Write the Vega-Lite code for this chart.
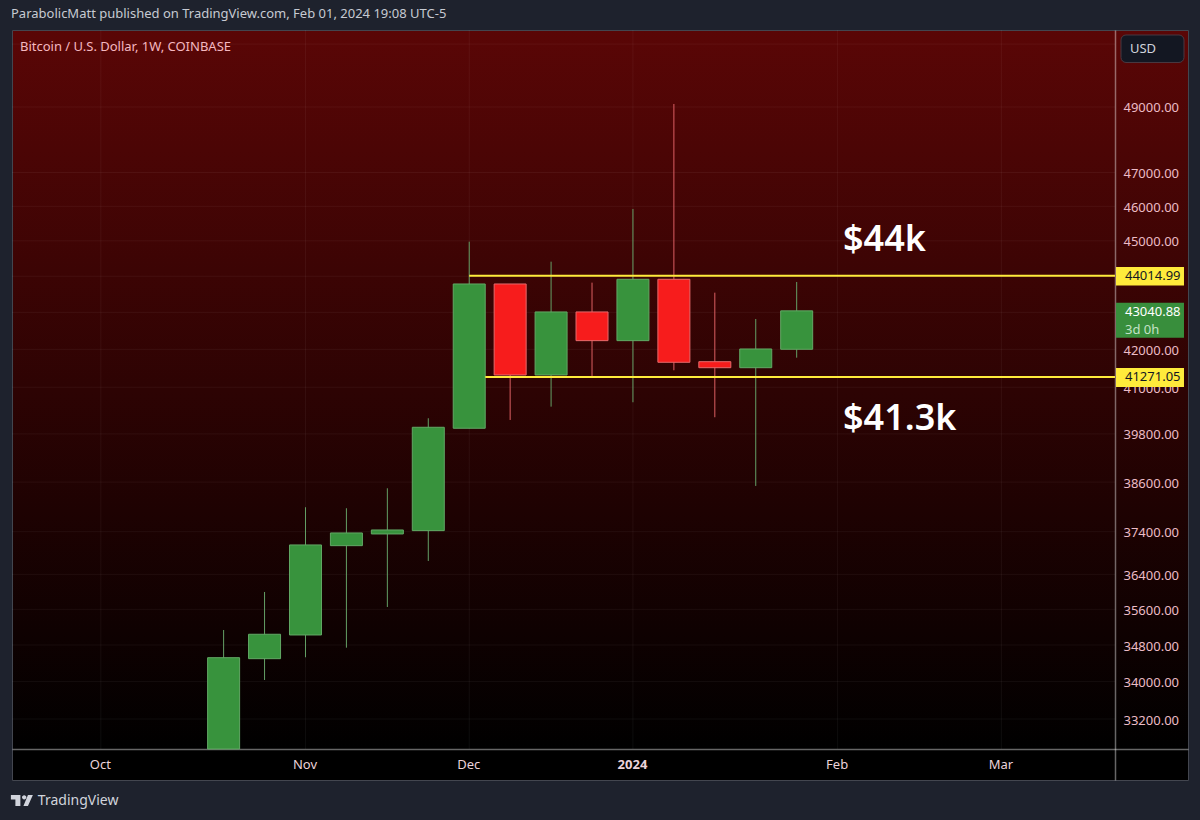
{
  "$schema": "https://vega.github.io/schema/vega-lite/v6.json",
  "width": 1176,
  "height": 750,
  "autosize": "none",
  "padding": {"left": 12, "top": 30, "right": 12, "bottom": 40},
  "background": "#1e222d",
  "title": {
    "text": "ParabolicMatt published on TradingView.com, Feb 01, 2024 19:08 UTC-5",
    "anchor": "start",
    "frame": "group",
    "offset": 9,
    "dx": -1,
    "font": "Noto Sans",
    "fontSize": 13,
    "fontWeight": "normal",
    "color": "#c6cad2"
  },
  "datasets": {
    "candles": [
      {"date": "2023-10-23", "open": 32573, "close": 34521, "high": 35134, "low": 32573, "dir": "up"},
      {"date": "2023-10-30", "open": 34499, "close": 35039, "high": 35994, "low": 34034, "dir": "up"},
      {"date": "2023-11-06", "open": 35023, "close": 37087, "high": 37987, "low": 34530, "dir": "up"},
      {"date": "2023-11-13", "open": 37070, "close": 37371, "high": 37963, "low": 34741, "dir": "up"},
      {"date": "2023-11-20", "open": 37347, "close": 37442, "high": 38448, "low": 35652, "dir": "up"},
      {"date": "2023-11-27", "open": 37426, "close": 39969, "high": 40199, "low": 36711, "dir": "up"},
      {"date": "2023-12-04", "open": 39944, "close": 43783, "high": 44977, "low": 39944, "dir": "up"},
      {"date": "2023-12-11", "open": 43783, "close": 41321, "high": 43783, "low": 40155, "dir": "down"},
      {"date": "2023-12-18", "open": 41321, "close": 43011, "high": 44409, "low": 40497, "dir": "up"},
      {"date": "2023-12-25", "open": 43011, "close": 42233, "high": 43820, "low": 41295, "dir": "down"},
      {"date": "2024-01-01", "open": 42233, "close": 43914, "high": 45923, "low": 40610, "dir": "up"},
      {"date": "2024-01-08", "open": 43914, "close": 41656, "high": 49094, "low": 41445, "dir": "down"},
      {"date": "2024-01-15", "open": 41672, "close": 41513, "high": 43542, "low": 40225, "dir": "down"},
      {"date": "2024-01-22", "open": 41513, "close": 42010, "high": 42819, "low": 38505, "dir": "up"},
      {"date": "2024-01-29", "open": 42002, "close": 43040.88, "high": 43839, "low": 41778, "dir": "up"}
    ],
    "priceGrid": [
      {"price": 51000, "from": "2023-09-16T19:26:00Z", "to": "2024-03-23T10:24:00Z"},
      {"price": 49000, "from": "2023-09-16T19:26:00Z", "to": "2024-03-23T10:24:00Z"},
      {"price": 47000, "from": "2023-09-16T19:26:00Z", "to": "2024-03-23T10:24:00Z"},
      {"price": 46000, "from": "2023-09-16T19:26:00Z", "to": "2024-03-23T10:24:00Z"},
      {"price": 45000, "from": "2023-09-16T19:26:00Z", "to": "2024-03-23T10:24:00Z"},
      {"price": 44000, "from": "2023-09-16T19:26:00Z", "to": "2024-03-23T10:24:00Z"},
      {"price": 43000, "from": "2023-09-16T19:26:00Z", "to": "2024-03-23T10:24:00Z"},
      {"price": 42000, "from": "2023-09-16T19:26:00Z", "to": "2024-03-23T10:24:00Z"},
      {"price": 41000, "from": "2023-09-16T19:26:00Z", "to": "2024-03-23T10:24:00Z"},
      {"price": 39800, "from": "2023-09-16T19:26:00Z", "to": "2024-03-23T10:24:00Z"},
      {"price": 38600, "from": "2023-09-16T19:26:00Z", "to": "2024-03-23T10:24:00Z"},
      {"price": 37400, "from": "2023-09-16T19:26:00Z", "to": "2024-03-23T10:24:00Z"},
      {"price": 36400, "from": "2023-09-16T19:26:00Z", "to": "2024-03-23T10:24:00Z"},
      {"price": 35600, "from": "2023-09-16T19:26:00Z", "to": "2024-03-23T10:24:00Z"},
      {"price": 34800, "from": "2023-09-16T19:26:00Z", "to": "2024-03-23T10:24:00Z"},
      {"price": 34000, "from": "2023-09-16T19:26:00Z", "to": "2024-03-23T10:24:00Z"},
      {"price": 33200, "from": "2023-09-16T19:26:00Z", "to": "2024-03-23T10:24:00Z"}
    ],
    "timeGrid": [
      {"date": "2023-10-02", "price": 51459, "bottom": 32573},
      {"date": "2023-11-06", "price": 51459, "bottom": 32573},
      {"date": "2023-12-04", "price": 51459, "bottom": 32573},
      {"date": "2024-01-01", "price": 51459, "bottom": 32573},
      {"date": "2024-02-05", "price": 51459, "bottom": 32573},
      {"date": "2024-03-04", "price": 51459, "bottom": 32573}
    ]
  },
  "encoding": {
    "x": {
      "field": "date",
      "type": "temporal",
      "title": null,
      "scale": {"type": "utc", "domain": [1694892384000, 1712268288000], "nice": false, "padding": 0},
      "axis": {
        "orient": "bottom",
        "offset": -31,
        "values": [1696204800000, 1699228800000, 1701648000000, 1704067200000, 1707091200000, 1709510400000],
        "labelExpr": "utcmonth(datum.value) == 0 ? '2024' : utcFormat(datum.value, '%b')",
        "labelFont": "Noto Sans",
        "labelFontSize": 13,
        "labelFontWeight": {"condition": {"test": "utcmonth(datum.value) == 0", "value": "bold"}, "value": "normal"},
        "labelColor": "#ecd3da",
        "labelPadding": 9,
        "labelOffset": -1,
        "labelFlush": false,
        "labelOverlap": false,
        "ticks": false,
        "grid": false,
        "domainColor": "#ffffff",
        "domainOpacity": 0.4,
        "domainWidth": 1.5
      }
    },
    "y": {
      "field": "price",
      "type": "quantitative",
      "title": null,
      "scale": {"type": "log", "domain": [31937, 51459], "nice": false, "padding": 0},
      "axis": {
        "orient": "right",
        "offset": -73,
        "values": [49000, 47000, 46000, 45000, 42000, 41000, 39800, 38600, 37400, 36400, 35600, 34800, 34000, 33200],
        "format": ".2f",
        "labelFont": "Noto Sans",
        "labelFontSize": 13,
        "labelColor": "#ecbcc6",
        "labelPadding": 8,
        "labelOffset": 1,
        "labelOverlap": false,
        "labelBound": false,
        "labelFlush": false,
        "ticks": false,
        "grid": false,
        "domainColor": "#ffffff",
        "domainOpacity": 0.4,
        "domainWidth": 1.5
      }
    }
  },
  "layer": [
    {
      "data": {"name": "priceGrid"},
      "mark": {"type": "rule", "color": "#ffffff", "opacity": 0.05, "strokeWidth": 1},
      "encoding": {
        "x": {"field": "from", "type": "temporal", "title": null},
        "x2": {"field": "to"}
      }
    },
    {
      "data": {"name": "timeGrid"},
      "mark": {"type": "rule", "color": "#ffffff", "opacity": 0.05, "strokeWidth": 1},
      "encoding": {
        "y2": {"field": "bottom"}
      }
    },
    {
      "data": {"name": "candles"},
      "mark": {"type": "rule", "strokeWidth": 1},
      "encoding": {
        "y": {"field": "high", "type": "quantitative", "title": null},
        "y2": {"field": "low"},
        "color": {"field": "dir", "type": "nominal", "legend": null, "scale": {"domain": ["up", "down"], "range": ["#64a066", "#dc5f62"]}}
      }
    },
    {
      "data": {"name": "candles"},
      "mark": {"type": "bar", "size": 32, "strokeWidth": 1},
      "encoding": {
        "y": {"field": "open", "type": "quantitative", "title": null},
        "y2": {"field": "close"},
        "fill": {"field": "dir", "type": "nominal", "legend": null, "scale": {"domain": ["up", "down"], "range": ["#38933d", "#f71c1c"]}},
        "stroke": {"field": "dir", "type": "nominal", "legend": null, "scale": {"domain": ["up", "down"], "range": ["#62a865", "#e66a6c"]}}
      }
    },
    {
      "data": {"values": [
        {"price": 44014.99, "from": "2023-12-04T00:00:00Z", "to": "2024-03-23T10:24:00Z"},
        {"price": 41271.05, "from": "2023-12-06T18:00:00Z", "to": "2024-03-23T10:24:00Z"}
      ]},
      "mark": {"type": "rule", "color": "#ffeb3b", "strokeWidth": 2},
      "encoding": {
        "x": {"field": "from", "type": "temporal", "title": null},
        "x2": {"field": "to"}
      }
    },
    {
      "data": {"values": [
        {"date": "2024-02-05T22:00:00Z", "price": 45026, "label": "$44k"},
        {"date": "2024-02-05T22:00:00Z", "price": 40181, "label": "$41.3k"}
      ]},
      "mark": {"type": "text", "align": "left", "baseline": "middle", "font": "Noto Sans", "fontSize": 36, "fontWeight": 600, "color": "#ffffff"},
      "encoding": {"text": {"field": "label", "type": "nominal"}}
    },
    {
      "data": {"values": [
        {"date": "2024-03-23T14:30:00Z", "to": "2024-04-04T05:37:00Z", "price": 44260, "bottom": 43741, "box": "level"},
        {"date": "2024-03-23T14:30:00Z", "to": "2024-04-04T05:37:00Z", "price": 41505, "bottom": 41007, "box": "level"},
        {"date": "2024-03-23T14:30:00Z", "to": "2024-04-04T05:37:00Z", "price": 43266, "bottom": 42314, "box": "last"}
      ]},
      "mark": {"type": "rect"},
      "encoding": {
        "x2": {"field": "to"},
        "y2": {"field": "bottom"},
        "fill": {"field": "box", "type": "nominal", "legend": null, "scale": {"domain": ["level", "last"], "range": ["#ffeb3b", "#388e3c"]}}
      }
    },
    {
      "data": {"values": [
        {"date": "2024-03-25T03:27:00Z", "price": 44000, "label": "44014.99"},
        {"date": "2024-03-25T03:27:00Z", "price": 41260, "label": "41271.05"}
      ]},
      "mark": {"type": "text", "align": "left", "baseline": "middle", "font": "Noto Sans", "fontSize": 13, "color": "#131722"},
      "encoding": {"text": {"field": "label", "type": "nominal"}}
    },
    {
      "data": {"values": [
        {"date": "2024-03-25T03:27:00Z", "price": 43000, "label": "43040.88", "tone": "a"},
        {"date": "2024-03-25T03:27:00Z", "price": 42530, "label": "3d 0h", "tone": "b"}
      ]},
      "mark": {"type": "text", "align": "left", "baseline": "middle", "font": "Noto Sans", "fontSize": 13},
      "encoding": {
        "text": {"field": "label", "type": "nominal"},
        "color": {"field": "tone", "type": "nominal", "legend": null, "scale": {"domain": ["a", "b"], "range": ["#ffffff", "#c4e2c6"]}}
      }
    },
    {
      "data": {"values": [
        {"date": "2024-03-24T11:00:00Z", "to": "2024-04-04T05:37:00Z", "price": 51296, "bottom": 50407}
      ]},
      "mark": {"type": "rect", "fill": "#131722", "stroke": "#4a3a42", "strokeWidth": 1, "cornerRadius": 5},
      "encoding": {
        "x2": {"field": "to"},
        "y2": {"field": "bottom"}
      }
    },
    {
      "data": {"values": [
        {"date": "2024-03-25T23:58:00Z", "price": 50841, "label": "USD"}
      ]},
      "mark": {"type": "text", "align": "left", "baseline": "middle", "font": "Noto Sans", "fontSize": 13, "color": "#d1d4dc"},
      "encoding": {"text": {"field": "label", "type": "nominal"}}
    },
    {
      "data": {"values": [
        {"date": "2023-09-18T04:00:00Z", "price": 50906, "label": "Bitcoin / U.S. Dollar, 1W, COINBASE"}
      ]},
      "mark": {"type": "text", "align": "left", "baseline": "middle", "font": "Noto Sans", "fontSize": 13, "color": "#f5b8c0"},
      "encoding": {"text": {"field": "label", "type": "nominal"}}
    },
    {
      "data": {"values": [
        {"date": "2023-09-18T12:00:00Z", "price": 31522}
      ]},
      "mark": {
        "type": "point",
        "filled": true,
        "opacity": 1,
        "size": 484,
        "color": "#d1d4dc",
        "shape": "M-1,-.5L-.136,-.5L-.136,.5L-.59,.5L-.59,-.09L-1,-.09Z M.55,-.5L1,-.5L.55,.5L.14,.5Z M.01,-.29a.2,.2 0 1,0 .4,0a.2,.2 0 1,0 -.4,0Z"
      }
    },
    {
      "data": {"values": [
        {"date": "2023-09-21T05:30:00Z", "price": 31513, "label": "TradingView"}
      ]},
      "mark": {"type": "text", "align": "left", "baseline": "middle", "font": "Noto Sans", "fontSize": 14, "color": "#d1d4dc"},
      "encoding": {"text": {"field": "label", "type": "nominal"}}
    }
  ],
  "resolve": {"scale": {"color": "independent", "fill": "independent"}},
  "view": {
    "stroke": "#43464f",
    "strokeWidth": 1,
    "fill": {
      "gradient": "linear",
      "x1": 0, "y1": 0, "x2": 0, "y2": 1,
      "stops": [
        {"offset": 0, "color": "#5a0606"},
        {"offset": 0.96, "color": "#000000"},
        {"offset": 1, "color": "#000000"}
      ]
    }
  }
}
